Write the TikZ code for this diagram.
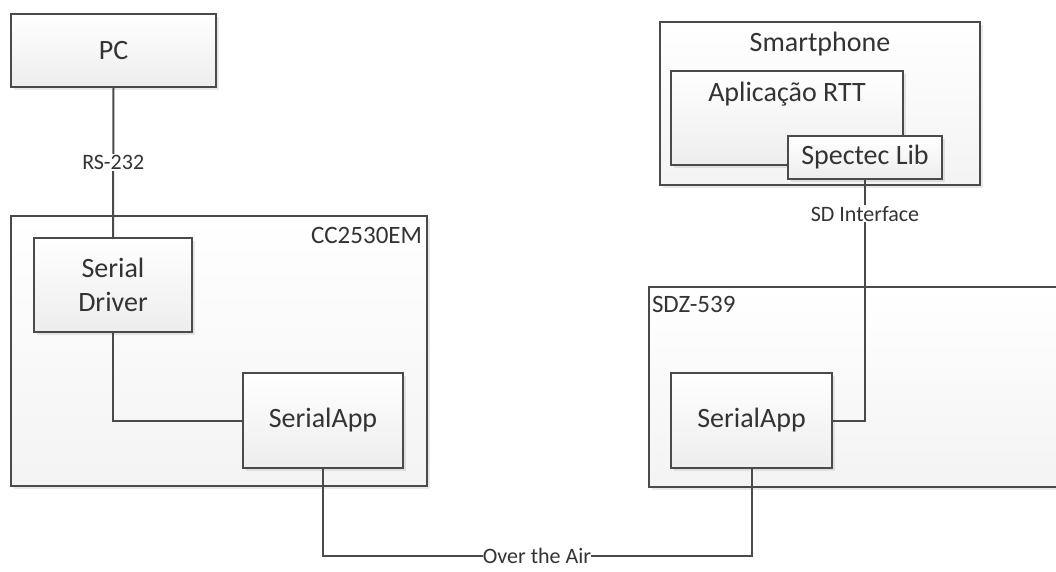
\documentclass[tikz,border=0pt]{standalone}
\usepackage{fontspec}
\setmainfont{Carlito}
\usetikzlibrary{positioning,shadows}

\definecolor{edgegray}{HTML}{4A4A4A}
\definecolor{textgray}{HTML}{333333}

\begin{document}
\begin{tikzpicture}[x=1pt,y=-1pt,line width=2pt,
        block/.style={rectangle, draw=edgegray, top color=white, bottom color=gray!14,
        drop shadow={shadow xshift=2.5pt, shadow yshift=-2.5pt, opacity=0.18},
        inner sep=0pt, text=textgray, font=\fontsize{28}{34}\selectfont, align=center},
        frame/.style={block, top color=white, bottom color=gray!9},
        title/.style={text=textgray, font=\fontsize{28}{34}\selectfont, inner sep=0pt},
        tag/.style={text=textgray, font=\fontsize{25}{30}\selectfont, inner sep=0pt},
        wire/.style={draw=edgegray, line width=2pt},
        wirelabel/.style={fill=white, text=textgray, font=\fontsize{22}{26}\selectfont, inner sep=1pt}
        ]

        \useasboundingbox (0,0) rectangle (1056,571);
        \clip (0,0) rectangle (1056,571);

        % boards
        \node [frame, minimum width=416, minimum height=270] (cc) at (219,351) {} ;
        \node [tag, anchor=north east] at ([xshift=-5, yshift=-11]cc.north east) {CC2530EM} ;
        \node [frame, minimum width=430, minimum height=200, anchor=north west] (sdz) at (648,286) {} ;
        \node [tag, anchor=north west] at ([xshift=3, yshift=-9]sdz.north west) {SDZ-539} ;
        \node [frame, minimum width=320, minimum height=163] (phone) at (820,103.5) {} ;
        \node [title, anchor=north] at ([yshift=-10]phone.north) {Smartphone} ;

        % blocks
        \node [block, minimum width=205, minimum height=73] (pc) at (113.5,50.5) {PC} ;
        \node [block, minimum width=158, minimum height=94] (drv) at (113,285) {Serial\\Driver} ;
        \node [block, minimum width=160, minimum height=95] (appl) at (323,420.5) {SerialApp} ;
        \node [block, minimum width=161, minimum height=95] (appr) at (751.5,420.5) {SerialApp} ;
        \node [block, minimum width=232, minimum height=94] (rtt) at (787,118) {} ;
        \node [title, anchor=north] at ([yshift=-11]rtt.north) {Aplicação RTT} ;
        \node [block, minimum width=154, minimum height=43] (lib) at (865,157.5) {Spectec Lib} ;

        % links
        \path [wire] (pc.south) -- node [wirelabel] {RS-232} (drv.north) ;
        \path [wire] (drv.south) |- (appl.west) ;
        \coordinate (air) at (537,556) ;
        \path [wire] (appl.south) |- (air) node [wirelabel, inner sep=0pt] {Over the Air} -| (appr.south) ;
        \path [wire] (lib.south) |- node [wirelabel, pos=0.07] {SD Interface} (appr.east) ;
\end{tikzpicture}
\end{document}
